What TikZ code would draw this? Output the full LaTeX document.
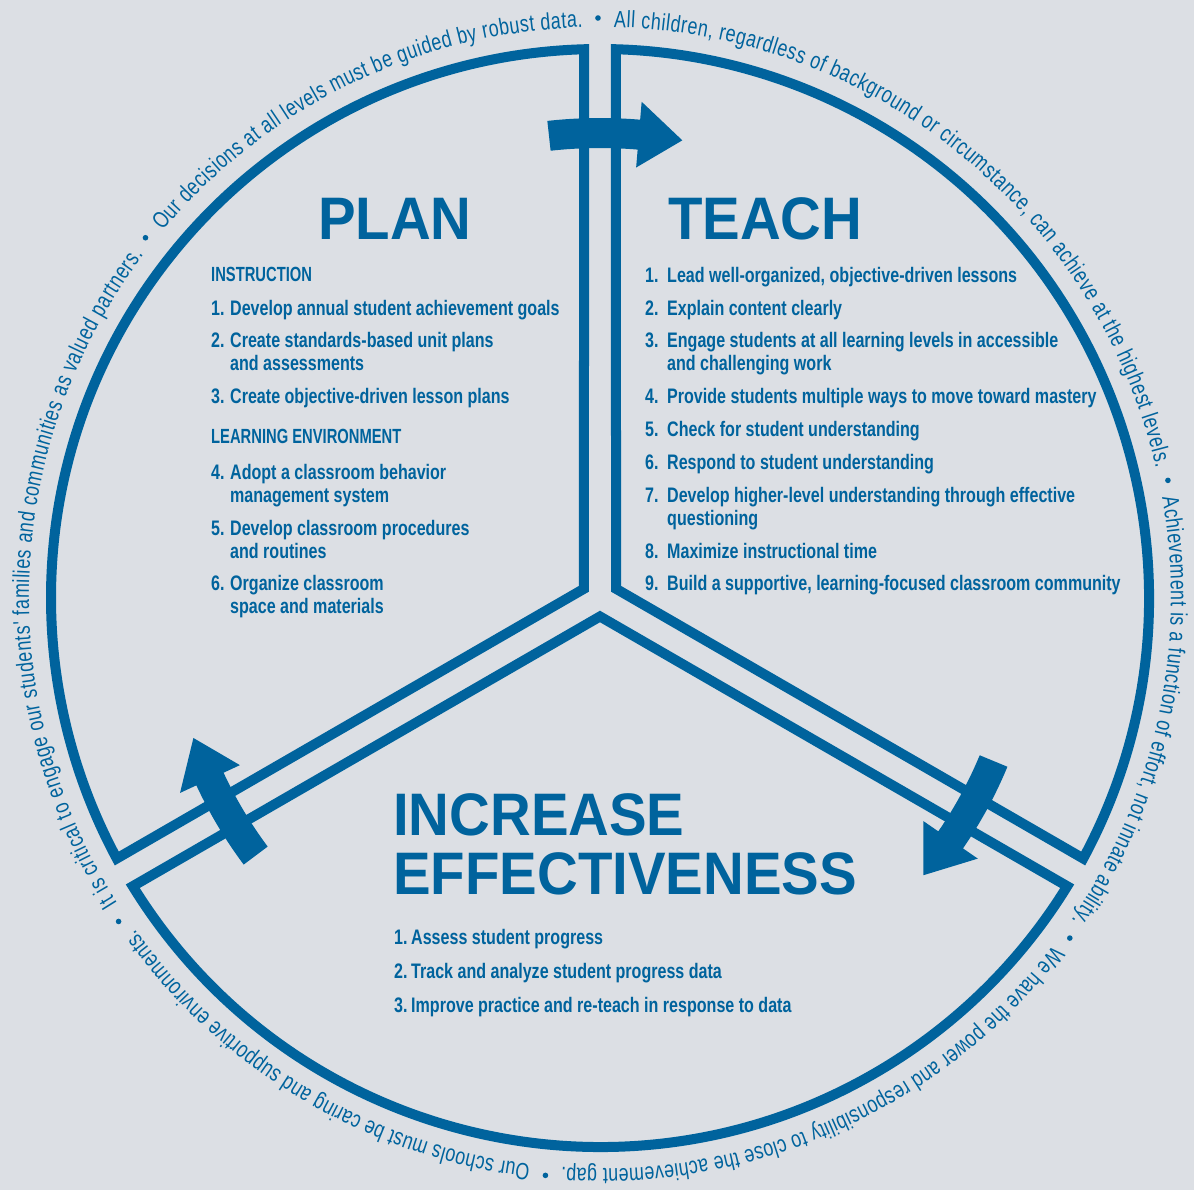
\documentclass[tikz,border=0pt]{standalone}
\usepackage{fontspec}
\setmainfont{Liberation Sans}
\newfontfamily\titlefont{Liberation Sans}[FakeStretch=0.94]
\newfontfamily\condfont{Liberation Sans}[FakeStretch=0.765]
\newfontfamily\headfont{Liberation Sans}[FakeStretch=0.72]
\newfontfamily\circfont{Liberation Sans}[FakeStretch=0.76]
\usetikzlibrary{decorations.text}
\definecolor{bgc}{RGB}{220,223,228}
\definecolor{ablue}{RGB}{0,99,157}
\newcommand\curvarrow[4]{% radius, tail angle, head base angle, tip angle
  \fill[ablue] (#2:{#1+15}) arc[start angle=#2, end angle=#3, radius={#1+15}]
    -- (#3:{#1+33}) -- (#4:#1) -- (#3:{#1-33}) -- (#3:{#1-15})
    arc[start angle=#3, end angle=#2, radius={#1-15}] -- cycle;}
\newcommand\ringtext[3]{%
  \path[decorate, decoration={text along path,
      text={|\circfont\fontsize{23.5}{23.5}\selectfont\color{ablue}|#3},
      text align={fit to path}}]
    (#1:571) arc[start angle=#1, end angle=#2, radius=571];}
\begin{document}
\begin{tikzpicture}[x=1pt, y=1pt,
  sect/.style={draw=ablue, line width=10pt, line join=miter, miter limit=10},
  bigtitle/.style={anchor=base west, inner sep=0pt, text=ablue,
    font=\titlefont\bfseries\fontsize{60}{60}\selectfont},
  li/.style={anchor=base west, inner sep=0pt, text=ablue,
    font=\condfont\bfseries\fontsize{21}{23}\selectfont},
  lh/.style={anchor=base west, inner sep=0pt, text=ablue,
    font=\headfont\bfseries\fontsize{20.5}{23}\selectfont},
  dot/.style={fill=ablue}]
% canvas
\fill[bgc] (-600,-592) rectangle (594,598);
\useasboundingbox (-600,-592) rectangle (594,598);
% three sectors
\draw[sect] (150:18.48) -- (91.67:549) arc[start angle=91.67, end angle=208.33, radius=549] -- cycle;
\draw[sect] (30:18.48) -- (-28.33:549) arc[start angle=-28.33, end angle=88.33, radius=549] -- cycle;
\draw[sect] (270:18.48) -- (211.67:549) arc[start angle=211.67, end angle=328.33, radius=549] -- cycle;
% curved arrows
\curvarrow{465}{96.3}{85.2}{79.8}
\curvarrow{426}{-22.5}{-34.6}{-40.6}
\curvarrow{430}{216.8}{204.9}{199.0}
% ring text
\ringtext{88.6}{13.3}{All children, regardless of background or circumstance, can achieve at the highest levels.}
\ringtext{10.1}{-34.3}{Achievement is a function of effort, not innate ability.}
\ringtext{-37.5}{-93.8}{We have the power and responsibility to close the achievement gap.}
\ringtext{263.0}{215.5}{Our schools must be caring and supportive environments.}
\ringtext{212.3}{143.2}{It is critical to engage our students' families and communities as valued partners.}
\ringtext{140.0}{91.8}{Our decisions at all levels must be guided by robust data.}
\fill[dot] (90.2:580) circle[radius=2.8];
\fill[dot] (11.7:580) circle[radius=2.8];
\fill[dot] (-35.9:580) circle[radius=2.8];
\fill[dot] (-95.4:580) circle[radius=2.8];
\fill[dot] (213.9:580) circle[radius=2.8];
\fill[dot] (141.6:580) circle[radius=2.8];
% titles
\node[bigtitle] (tplan) at (-282,358) {PLAN};
\node[bigtitle] (tteach) at (68,358) {TEACH};
\node[bigtitle] (tinc1) at (-207,-238) {INCREASE};
\node[bigtitle] (tinc2) at (-207,-297) {EFFECTIVENESS};
% PLAN list
\node[lh] (ph1) at (-389,316) {INSTRUCTION};
\node[li] (pn1) at (-389,282) {1.};
\node[li] (pt1) at (-370,282) {Develop annual student achievement goals};
\node[li] (pn2) at (-389,250) {2.};
\node[li] (pt2) at (-370,250) {Create standards-based unit plans};
\node[li] (pt2b) at (-370,227) {and assessments};
\node[li] (pn3) at (-389,194) {3.};
\node[li] (pt3) at (-370,194) {Create objective-driven lesson plans};
\node[lh] (ph2) at (-389,154) {LEARNING ENVIRONMENT};
\node[li] (pn4) at (-389,118) {4.};
\node[li] (pt4) at (-370,118) {Adopt a classroom behavior};
\node[li] (pt4b) at (-370,95) {management system};
\node[li] (pn5) at (-389,62) {5.};
\node[li] (pt5) at (-370,62) {Develop classroom procedures};
\node[li] (pt5b) at (-370,39) {and routines};
\node[li] (pn6) at (-389,7) {6.};
\node[li] (pt6) at (-370,7) {Organize classroom};
\node[li] (pt6b) at (-370,-16) {space and materials};
% TEACH list
\node[li] (tn1) at (45,315) {1.};
\node[li] (tt1) at (67,315) {Lead well-organized, objective-driven lessons};
\node[li] (tn2) at (45,282) {2.};
\node[li] (tt2) at (67,282) {Explain content clearly};
\node[li] (tn3) at (45,250) {3.};
\node[li] (tt3) at (67,250) {Engage students at all learning levels in accessible};
\node[li] (tt3b) at (67,227) {and challenging work};
\node[li] (tn4) at (45,194) {4.};
\node[li] (tt4) at (67,194) {Provide students multiple ways to move toward mastery};
\node[li] (tn5) at (45,161) {5.};
\node[li] (tt5) at (67,161) {Check for student understanding};
\node[li] (tn6) at (45,128) {6.};
\node[li] (tt6) at (67,128) {Respond to student understanding};
\node[li] (tn7) at (45,95) {7.};
\node[li] (tt7) at (67,95) {Develop higher-level understanding through effective};
\node[li] (tt7b) at (67,72) {questioning};
\node[li] (tn8) at (45,39) {8.};
\node[li] (tt8) at (67,39) {Maximize instructional time};
\node[li] (tn9) at (45,7) {9.};
\node[li] (tt9) at (67,7) {Build a supportive, learning-focused classroom community};
% INCREASE list
\node[li] (in1) at (-206,-347) {1.};
\node[li] (it1) at (-189,-347) {Assess student progress};
\node[li] (in2) at (-206,-381) {2.};
\node[li] (it2) at (-189,-381) {Track and analyze student progress data};
\node[li] (in3) at (-206,-414) {3.};
\node[li] (it3) at (-189,-414) {Improve practice and re-teach in response to data};
\end{tikzpicture}
\end{document}
